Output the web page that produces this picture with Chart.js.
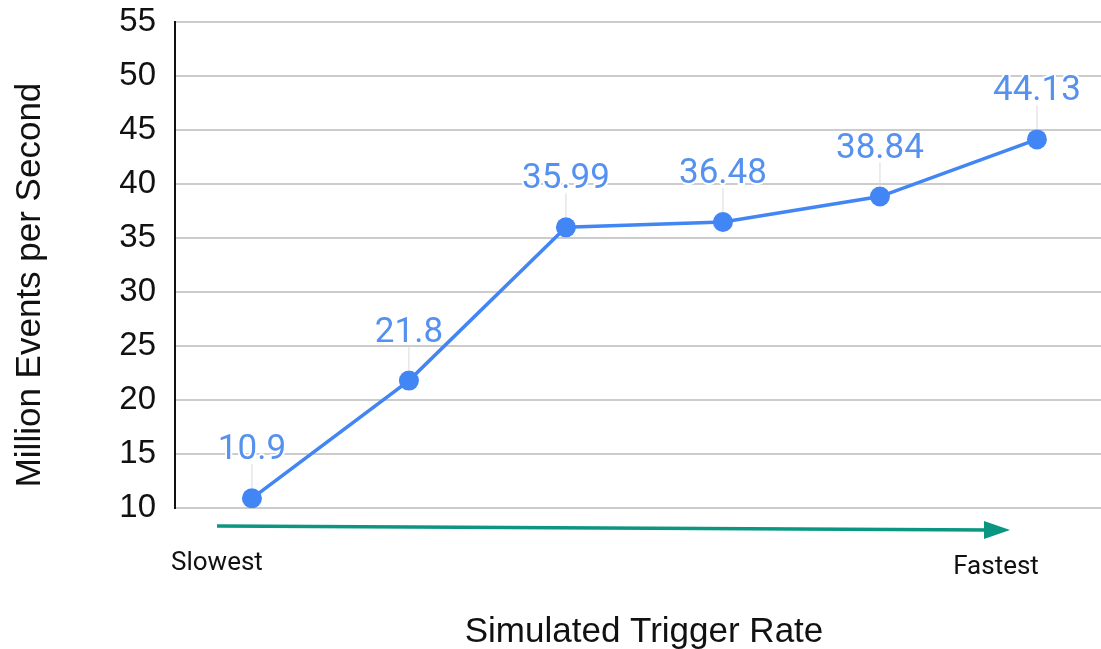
<!DOCTYPE html>
<html>
<head>
<meta charset="utf-8">
<script src="https://cdn.jsdelivr.net/npm/chart.js@4"></script>
<style>
  html, body { margin: 0; padding: 0; background: #fff; }
  #wrap { width: 1101px; height: 649px; }
</style>
</head>
<body>
<div id="wrap"><canvas id="rate_chart" width="1101" height="649"></canvas></div>
<script>
// DATA
const rate_steps = [0, 1, 2, 3, 4, 5];
const events_per_sec = [10.9, 21.8, 35.99, 36.48, 38.84, 44.13];
const y_ticks = [10, 15, 20, 25, 30, 35, 40, 45, 50, 55];
const slow_label = "Slowest";
const fast_label = "Fastest";
const x_title = "Simulated Trigger Rate";
const y_title = "Million Events per Second";

const BLUE = "#4285f4";
const TEAL = "#0a9680";

// labels over points, arrow and axis texts
const extras = {
  id: "extras",
  afterDatasetsDraw(chart) {
    const ctx = chart.ctx;
    const area = chart.chartArea;
    const meta = chart.getDatasetMeta(0);
    ctx.save();
    meta.data.forEach((pt, i) => {
      // leader line
      ctx.strokeStyle = "#d9d9d9";
      ctx.lineWidth = 1;
      ctx.beginPath();
      ctx.moveTo(pt.x, pt.y - 10);
      ctx.lineTo(pt.x, pt.y - 34);
      ctx.stroke();
      // value
      ctx.font = "35px Roboto";
      ctx.textAlign = "center";
      ctx.textBaseline = "alphabetic";
      ctx.lineWidth = 4;
      ctx.strokeStyle = "#fff";
      ctx.strokeText(String(events_per_sec[i]), pt.x, pt.y - 39);
      ctx.fillStyle = "#5591ef";
      ctx.fillText(String(events_per_sec[i]), pt.x, pt.y - 39);
    });

    // arrow under the plot
    const y0 = area.bottom + 18, y1 = area.bottom + 22;
    const xs = area.left + 42, xe = area.left + 835;
    ctx.strokeStyle = TEAL;
    ctx.fillStyle = TEAL;
    ctx.lineWidth = 3.5;
    ctx.beginPath();
    ctx.moveTo(xs, y0);
    ctx.lineTo(xe - 20, y1);
    ctx.stroke();
    ctx.beginPath();
    ctx.moveTo(xe, y1);
    ctx.lineTo(xe - 26, y1 - 9);
    ctx.lineTo(xe - 26, y1 + 9);
    ctx.closePath();
    ctx.fill();

    ctx.fillStyle = "#111";
    ctx.font = "26px Roboto";
    ctx.textAlign = "left";
    ctx.fillText(slow_label, 171, 570);
    ctx.textAlign = "center";
    ctx.fillText(fast_label, 996, 574);

    ctx.font = "35px 'Liberation Sans', Arial";
    ctx.fillText(x_title, 644, 642);

    ctx.translate(30, 285);
    ctx.rotate(-Math.PI / 2);
    ctx.textBaseline = "middle";
    ctx.fillText(y_title, 0, 0);
    ctx.restore();
  }
};

new Chart(document.getElementById("rate_chart"), {
  type: "line",
  data: {
    datasets: [{
      data: rate_steps.map((x, i) => ({ x: x, y: events_per_sec[i] })),
      borderColor: BLUE,
      backgroundColor: BLUE,
      borderWidth: 3.5,
      pointRadius: 10,
      pointBackgroundColor: BLUE,
      pointBorderWidth: 0,
      tension: 0,
      fill: false
    }]
  },
  options: {
    responsive: false,
    animation: false,
    layout: { autoPadding: false, padding: { top: 22, right: 0, bottom: 141, left: 0 } },
    plugins: { legend: { display: false }, tooltip: { enabled: false } },
    scales: {
      x: {
        type: "linear",
        display: false,
        min: -0.49,
        max: 5.408
      },
      y: {
        min: 10,
        max: 55,
        afterBuildTicks(scale) {
          scale.ticks = y_ticks.map(v => ({ value: v }));
        },
        afterFit(scale) {
          scale.width = 175;
          scale.paddingTop = 0;
          scale.paddingBottom = 0;
          scale.paddingLeft = 0;
          scale.paddingRight = 0;
        },
        grid: {
          color: "#cccccc",
          lineWidth: 2,
          drawTicks: false
        },
        border: { display: true, color: "#111", width: 2 },
        ticks: {
          padding: 19,
          color: "#111",
          font: { family: "'Liberation Sans', Arial", size: 33 }
        }
      }
    }
  },
  plugins: [extras]
});
</script>
</body>
</html>
